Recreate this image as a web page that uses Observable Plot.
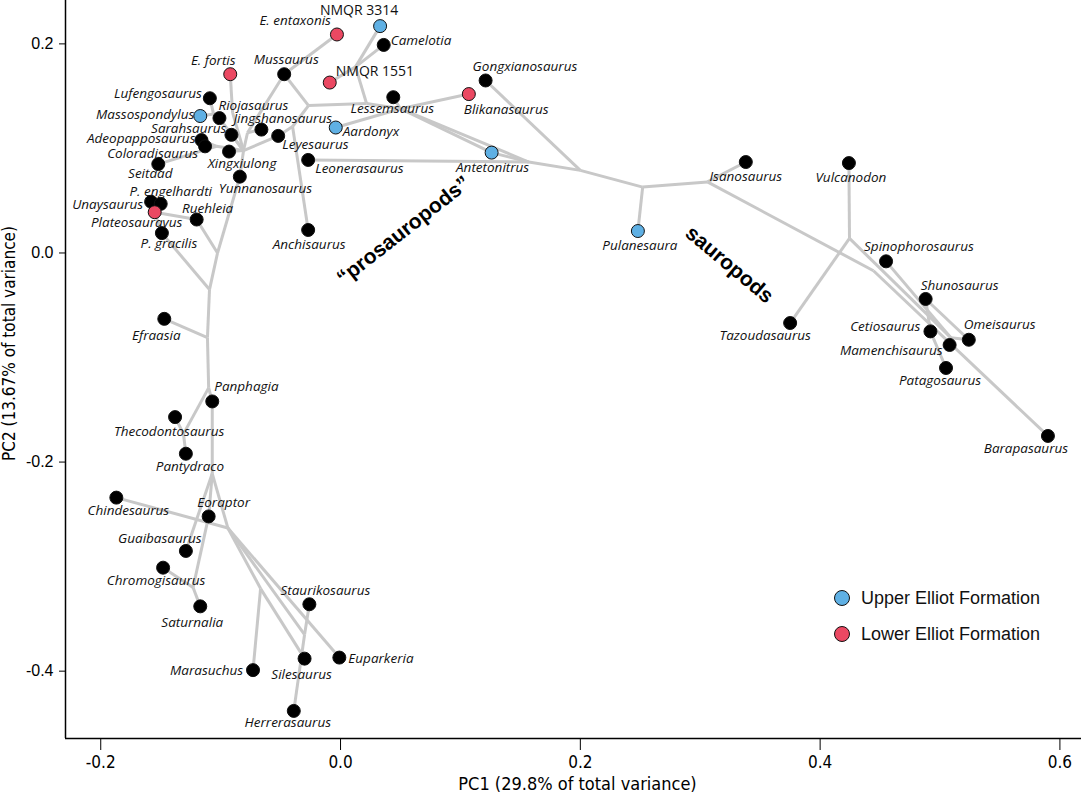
<!DOCTYPE html>
<html><head><meta charset="utf-8">
<script src="https://cdn.jsdelivr.net/npm/d3@7"></script>
<script src="https://cdn.jsdelivr.net/npm/@observablehq/plot@0.6"></script>
<style>
body{margin:0;background:#fff;}
#chart{position:relative;width:1081px;height:796px;overflow:hidden;}
#chart svg{position:absolute;left:0;top:0;}
g[aria-label="x-axis tick label"] text{font-family:"Liberation Sans Narrow","DejaVu Sans Condensed","Liberation Sans",sans-serif;font-size:17px;}
g[aria-label="y-axis tick label"] text{font-family:"Liberation Sans",Arial,sans-serif;font-size:16px;}
.legend{position:absolute;left:834px;top:580px;font-family:"Liberation Sans",Arial,sans-serif;font-size:18px;color:#111;}
.legend div{display:flex;align-items:center;height:36px;}
.legend span.c{display:inline-block;width:16px;height:16px;border-radius:50%;border:1px solid #111;box-sizing:border-box;margin-right:11px;}
</style></head><body><div id="chart"></div><script>
// ---- tip data (PC1, PC2) ----
const taxa = ["E. entaxonis","NMQR 3314","Camelotia","E. fortis","Mussaurus","NMQR 1551","Gongxianosaurus","Blikanasaurus","Lessemsaurus","Lufengosaurus","Massospondylus","Riojasaurus","Jingshanosaurus","Leyesaurus","Aardonyx","Sarahsaurus","Adeopapposaurus","Coloradisaurus","Xingxiulong","Leonerasaurus","Antetonitrus","Seitaad","Yunnanosaurus","Unaysaurus","P. engelhardti","Plateosauravus","Ruehleia","P. gracilis","Anchisaurus","Isanosaurus","Vulcanodon","Pulanesaura","Spinophorosaurus","Shunosaurus","Tazoudasaurus","Cetiosaurus","Omeisaurus","Mamenchisaurus","Patagosaurus","Barapasaurus","Efraasia","Panphagia","Thecodontosaurus","Pantydraco","Chindesaurus","Eoraptor","Guaibasaurus","Chromogisaurus","Saturnalia","Staurikosaurus","Euparkeria","Silesaurus","Marasuchus","Herrerasaurus"];
const pc1 = [-0.003,0.033,0.036,-0.092,-0.047,-0.009,0.121,0.107,0.044,-0.109,-0.117,-0.101,-0.066,-0.052,-0.004,-0.091,-0.116,-0.113,-0.093,-0.027,0.126,-0.152,-0.084,-0.158,-0.150,-0.155,-0.120,-0.149,-0.027,0.338,0.424,0.248,0.455,0.488,0.375,0.492,0.524,0.508,0.505,0.590,-0.147,-0.107,-0.138,-0.129,-0.187,-0.110,-0.129,-0.148,-0.117,-0.026,-0.001,-0.030,-0.073,-0.039];
const pc2 = [0.209,0.217,0.199,0.171,0.171,0.163,0.165,0.152,0.149,0.148,0.131,0.129,0.118,0.112,0.120,0.113,0.108,0.102,0.097,0.089,0.096,0.085,0.073,0.049,0.047,0.039,0.032,0.019,0.022,0.087,0.086,0.021,-0.008,-0.044,-0.067,-0.075,-0.083,-0.088,-0.110,-0.175,-0.063,-0.142,-0.157,-0.192,-0.234,-0.252,-0.285,-0.301,-0.338,-0.336,-0.387,-0.388,-0.399,-0.438];
const formation = {"Massospondylus":"Upper Elliot Formation","Aardonyx":"Upper Elliot Formation","NMQR 3314":"Upper Elliot Formation","Antetonitrus":"Upper Elliot Formation","Pulanesaura":"Upper Elliot Formation","E. entaxonis":"Lower Elliot Formation","E. fortis":"Lower Elliot Formation","NMQR 1551":"Lower Elliot Formation","Blikanasaurus":"Lower Elliot Formation","Plateosauravus":"Lower Elliot Formation"};
const formationNames = ["Upper Elliot Formation","Lower Elliot Formation"];
const formationColors = ["#5fb0e4","#eb4862"];

// ---- reconstructed ancestral nodes (PC1, PC2) ----
const nodeIds = ["nB1","nV","nN","nM2","nUp","nJ","H","nAC","nMas","nEf","nR","nPlat","nEfr","n1","nTheco","nB","nChin","nSat","nM","nH","nS1","nS2","nS3","nS4","nE0","nV2","nE3"];
const nodeX = [0.050,0.0217,0.0125,-0.0267,-0.040,-0.0776,-0.0809,-0.1034,-0.1059,-0.090,-0.1026,-0.1093,-0.111,-0.110,-0.131,-0.107,-0.094,-0.123,-0.0667,-0.030,0.157,0.200,0.252,0.306,0.4445,0.4245,0.509];
const nodeY = [0.138,0.143,0.178,0.141,0.121,0.115,0.098,0.102,0.133,0.134,0.000,-0.035,-0.081,-0.129,-0.173,-0.211,-0.263,-0.320,-0.321,-0.365,0.087,0.079,0.063,0.068,-0.017,0.014,-0.081];

// ---- tree branches ----
const branches = [
 ["Herrerasaurus","nH"],["Staurikosaurus","nH"],["nH","nChin"],["Euparkeria","nChin"],
 ["nM","nChin"],["nM","Marasuchus"],["nM","Silesaurus"],["Chindesaurus","nChin"],["nChin","nB"],
 ["nB","Guaibasaurus"],["nB","Eoraptor"],["Eoraptor","nSat"],["nSat","Chromogisaurus"],["nSat","Saturnalia"],
 ["nB","Panphagia"],["Panphagia","n1"],["n1","nTheco"],["nTheco","Thecodontosaurus"],["nTheco","Pantydraco"],
 ["n1","nEfr"],["nEfr","Efraasia"],["nEfr","nPlat"],["nPlat","P. gracilis"],["nPlat","nR"],["nR","Ruehleia"],
 ["Ruehleia","Plateosauravus"],["Plateosauravus","Unaysaurus"],["Plateosauravus","P. engelhardti"],["Plateosauravus","P. gracilis"],
 ["nR","Yunnanosaurus"],["Yunnanosaurus","H"],["H","Xingxiulong"],["H","nAC"],["nAC","Adeopapposaurus"],["nAC","Coloradisaurus"],["nAC","Seitaad"],
 ["H","Sarahsaurus"],["H","Riojasaurus"],["Riojasaurus","nMas"],["nMas","Massospondylus"],["nMas","Lufengosaurus"],
 ["H","nEf"],["nEf","E. fortis"],["H","nJ"],["nJ","Jingshanosaurus"],["nJ","Mussaurus"],
 ["H","Leyesaurus"],["Leyesaurus","nUp"],["nUp","Anchisaurus"],["nUp","nM2"],["nM2","Mussaurus"],["Mussaurus","E. entaxonis"],
 ["nM2","nV"],["nV","nN"],["nN","NMQR 3314"],["nN","Camelotia"],["nN","NMQR 1551"],
 ["nV","nB1"],["nB1","Lessemsaurus"],["nB1","Blikanasaurus"],["nB1","Aardonyx"],["nB1","Antetonitrus"],["Antetonitrus","nS1"],["nB1","nS1"],
 ["Leonerasaurus","nS1"],["nS1","nS2"],["Gongxianosaurus","nS2"],["nS2","nS3"],["nS3","Pulanesaura"],["nS3","nS4"],["nS4","Isanosaurus"],
 ["nS4","nE0"],["nE0","Barapasaurus"],["Vulcanodon","nV2"],["nV2","Tazoudasaurus"],["nV2","nE3"],
 ["nE3","Spinophorosaurus"],["nE3","Omeisaurus"],["nE3","Mamenchisaurus"],["Shunosaurus","Omeisaurus"],["Shunosaurus","Cetiosaurus"],["Cetiosaurus","Patagosaurus"]
];

// ---- group annotations ----
const groupText = ["\u201Cprosauropods\u201D","sauropods"];
const groupX = [0.0525,0.3244];
const groupY = [0.0215,-0.011];
const groupAngle = [-38,40];

// ---- axis ticks ----
const xTicks = [-0.2,0,0.2,0.4,0.6];
const yTicks = [0.2,0,-0.2,-0.4];
const xDomain = [-0.2294,0.618];
const yDomain = [-0.4644,0.2415];

// ---- label placement (layout) ----
const place = {
 "E. entaxonis":["end",-6,-14],"NMQR 3314":["middle",-21,-16],"Camelotia":["start",7,-4],"E. fortis":["middle",-17,-14],
 "Mussaurus":["middle",2,-15],"NMQR 1551":["start",6,-11],"Gongxianosaurus":["start",-13,-14],"Lufengosaurus":["end",-8,-5],
 "Riojasaurus":["start",-1,-12],"Lessemsaurus":["middle",-1,11],"Blikanasaurus":["start",-5,16],"Massospondylus":["end",-6,-1],
 "Jingshanosaurus":["start",-28,-11],"Sarahsaurus":["end",-5,-6],"Aardonyx":["start",7,4],"Adeopapposaurus":["end",-6,-1],
 "Leyesaurus":["start",4,9],"Coloradisaurus":["end",-7,7],"Xingxiulong":["middle",13,12],"Leonerasaurus":["start",7,9],
 "Antetonitrus":["middle",1,15],"Seitaad":["middle",-8,10],"Yunnanosaurus":["start",-21,12],"P. engelhardti":["middle",10,-12],
 "Unaysaurus":["end",-8,3],"Ruehleia":["middle",11,-11],"Plateosauravus":["middle",-18,10],"P. gracilis":["middle",7,11],
 "Anchisaurus":["middle",1,15],"Isanosaurus":["middle",0,15],"Vulcanodon":["middle",2,15],"Pulanesaura":["middle",2,15],
 "Spinophorosaurus":["start",-22,-15],"Shunosaurus":["start",-5,-13],"Tazoudasaurus":["middle",-25,13],"Cetiosaurus":["end",-10,-5],
 "Omeisaurus":["start",-5,-15],"Mamenchisaurus":["end",-7,6],"Patagosaurus":["middle",-6,13],"Barapasaurus":["middle",-22,13],
 "Efraasia":["middle",-8,17],"Panphagia":["start",2,-15],"Thecodontosaurus":["middle",-6,15],"Pantydraco":["middle",4,13],
 "Chindesaurus":["middle",12,13],"Eoraptor":["middle",15,-14],"Guaibasaurus":["middle",-26,-12],"Chromogisaurus":["middle",-7,13],
 "Saturnalia":["middle",-8,16],"Staurikosaurus":["middle",16,-14],"Euparkeria":["start",9,1],"Silesaurus":["middle",-3,16],
 "Marasuchus":["end",-10,1],"Herrerasaurus":["middle",-6,12]
};

// ---- build tables ----
const tips = taxa.map((t,i)=>({name:t,x:pc1[i],y:pc2[i],group:formation[t]||"other"}));
const pos = new Map();
tips.forEach(d=>pos.set(d.name,[d.x,d.y]));
nodeIds.forEach((n,i)=>pos.set(n,[nodeX[i],nodeY[i]]));
const links = branches.map(([a,b])=>({x1:pos.get(a)[0],y1:pos.get(a)[1],x2:pos.get(b)[0],y2:pos.get(b)[1]}));
const groups = groupText.map((t,i)=>({text:t,x:groupX[i],y:groupY[i],angle:groupAngle[i]}));
const colorOf = g => g==="other" ? "#000" : formationColors[formationNames.indexOf(g)];

const labelFont = '"Open Sans","Noto Sans",sans-serif';
const labelMarks = tips.map(d=>{
  const [anchor,dx,dy] = place[d.name];
  const roman = d.name.startsWith("NMQR");
  return Plot.text([d],{x:"x",y:"y",text:"name",textAnchor:anchor,dx,dy,
    fontStyle: roman ? "normal" : "italic", fontSize: roman ? 14 : 13.5, fontFamily: labelFont, fill:"#111"});
});
const narrow = '"Liberation Sans Narrow","DejaVu Sans Condensed","Liberation Sans",sans-serif';

const plot = Plot.plot({
  width:1081, height:796,
  marginLeft:65, marginRight:0, marginTop:0, marginBottom:58,
  style:{fontFamily:'"Liberation Sans",Arial,sans-serif',fontSize:"14px",background:"#fff",overflow:"visible"},
  x:{domain:xDomain},
  y:{domain:yDomain},
  marks:[
    Plot.link(links,{x1:"x1",y1:"y1",x2:"x2",y2:"y2",stroke:"#c8c8c8",strokeWidth:3}),
    ...labelMarks,
    Plot.dot(tips,{x:"x",y:"y",r:6.5,fill:d=>colorOf(d.group),stroke:"#111",strokeWidth:1}),
    ...groups.map(g=>Plot.text([g],{x:"x",y:"y",text:"text",rotate:g.angle,fontSize:21,fontWeight:"bold",fontFamily:'"Liberation Sans",Arial,sans-serif',fill:"#000"})),
    Plot.ruleX([xDomain[0]],{stroke:"#000",strokeWidth:1.5}),
    Plot.ruleY([yDomain[0]],{stroke:"#000",strokeWidth:1.5}),
    Plot.axisX({ticks:xTicks,tickSize:12,tickPadding:5,tickFormat:d=>d.toFixed(1),label:null,stroke:"#000"}),
    Plot.axisY({ticks:yTicks,tickSize:6,tickPadding:6,tickFormat:d=>d.toFixed(1),label:null,stroke:"#000"}),
    Plot.text(["PC1 (29.8% of total variance)"],{frameAnchor:"bottom",textAnchor:"middle",dx:4,dy:51,fontSize:18,fontFamily:narrow,fill:"#000"}),
    Plot.text(["PC2 (13.67% of total variance)"],{frameAnchor:"left",textAnchor:"middle",dx:-56,dy:-26,rotate:-90,fontSize:17,fontFamily:narrow,fill:"#000"})
  ]
});
const chart = document.getElementById("chart");
chart.appendChild(plot);
const lg = document.createElement("div");
lg.className = "legend";
formationNames.forEach((n,i)=>{
  const row = document.createElement("div");
  row.innerHTML = `<span class="c" style="background:${formationColors[i]}"></span>${n}`;
  lg.appendChild(row);
});
chart.appendChild(lg);
</script></body></html>
